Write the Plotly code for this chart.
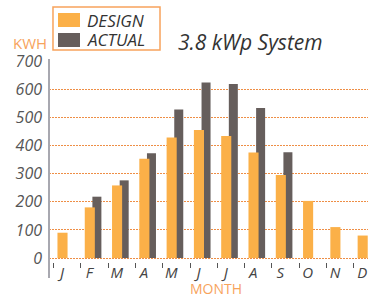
import plotly.graph_objects as go

months = ["J", "F", "M", "A", "M", "J", "J", "A", "S", "O", "N", "D"]
design = [90, 180, 258, 353, 428, 455, 434, 375, 295, 203, 110, 80]
actual = [None, 218, 276, 372, 528, 624, 618, 533, 376, None, None, None]
yticks = [0, 100, 200, 300, 400, 500, 600, 700]
series_names = ["DESIGN", "ACTUAL"]

ORANGE = "#F7A35C"
GRID = "#EE8E45"
DESIGN_COLOR = "#FBB048"
ACTUAL_COLOR = "#665E5C"
FONT = "Open Sans"
xpos = list(range(len(months)))

fig = go.Figure()
fig.add_trace(go.Bar(
    x=xpos, y=actual, name=series_names[1], width=0.33, offset=0.11,
    marker=dict(color=ACTUAL_COLOR, line=dict(width=0)), showlegend=False,
))
fig.add_trace(go.Bar(
    x=xpos, y=design, name=series_names[0], width=0.37, offset=-0.17,
    marker=dict(color=DESIGN_COLOR, line=dict(width=0)), showlegend=False,
))

# legend box drawn in paper coordinates (outside plot area, top-left)
legend_shapes = [
    dict(type="rect", xref="paper", yref="paper",
         x0=0.0125, x1=0.348, y0=1.0547, y1=1.2687,
         line=dict(color=ORANGE, width=1.5), fillcolor="white", layer="above"),
    dict(type="rect", xref="paper", yref="paper",
         x0=0.0282, x1=0.0972, y0=1.1692, y1=1.2388,
         line=dict(width=0), fillcolor=DESIGN_COLOR, layer="above"),
    dict(type="rect", xref="paper", yref="paper",
         x0=0.0282, x1=0.0972, y0=1.0697, y1=1.1393,
         line=dict(width=0), fillcolor=ACTUAL_COLOR, layer="above"),
]
legend_texts = [
    dict(text=series_names[0], xref="paper", yref="paper",
         x=0.1129, y=1.2015, xanchor="left", yanchor="middle", showarrow=False,
         font=dict(family=FONT, size=17, color="#333333", style="italic")),
    dict(text=series_names[1], xref="paper", yref="paper",
         x=0.1129, y=1.1045, xanchor="left", yanchor="middle", showarrow=False,
         font=dict(family=FONT, size=17, color="#333333", style="italic")),
]

fig.update_layout(
    width=368, height=295,
    margin=dict(l=49, r=0, t=61, b=33, autoexpand=False),
    paper_bgcolor="white", plot_bgcolor="white",
    barmode="overlay",
    font=dict(family=FONT),
    showlegend=False,
    xaxis=dict(
        range=[-0.48, 11.21], tickmode="array", tickvals=xpos, ticktext=months,
        showgrid=False, zeroline=False, showline=False, ticks="",
        automargin=False,
        tickfont=dict(family=FONT, size=15, color="#444444", style="italic"),
        minor=dict(tick0=0.69, dtick=1, ticks="outside", ticklen=5,
                   tickcolor="#555555", tickwidth=1, showgrid=False),
    ),
    yaxis=dict(
        range=[-14, 700], tickmode="array", tickvals=yticks,
        showgrid=True, gridcolor=GRID, griddash="2px,1px", gridwidth=1,
        zeroline=False, showline=False, ticks="",
        automargin=False,
        ticklabelstandoff=6,
        tickfont=dict(family=FONT, size=16, color="#555555", style="italic"),
    ),
    shapes=[dict(type="line", xref="paper", yref="paper",
                 x0=0, x1=0, y0=-0.08, y1=1.01,
                 line=dict(color="#A8A8B0", width=2))] + legend_shapes,
    annotations=[
        dict(text="3.8 kWp System", xref="paper", yref="paper",
             x=0.632, y=1.0945, xanchor="center", yanchor="middle",
             showarrow=False,
             font=dict(family=FONT, size=21, color="#333333", style="italic")),
        dict(text="KWH", xref="paper", yref="paper",
             x=-0.06, y=1.09, xanchor="center", yanchor="middle",
             showarrow=False, font=dict(family=FONT, size=15, color=ORANGE)),
        dict(text="MONTH", xref="paper", yref="paper",
             x=0.523, y=-0.13, xanchor="center", yanchor="middle",
             showarrow=False, font=dict(family=FONT, size=14, color=ORANGE)),
    ] + legend_texts,
)

fig.write_html(
    "out.html",
    config={"displayModeBar": False},
    post_script="document.body.style.margin='0';document.body.style.padding='0';",
)
